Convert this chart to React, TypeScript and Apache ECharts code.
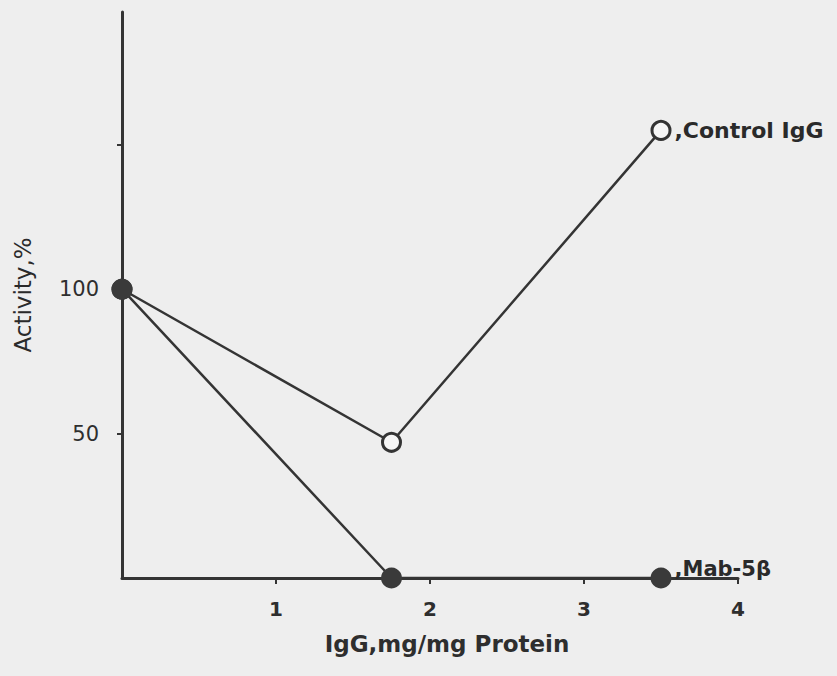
import React, { useEffect, useRef } from "react";
import * as echarts from "echarts";

const doses = [0, 1.75, 3.5];
const controlIgG = [100, 47, 155];
const mab5b = [100, 0, 0];
const xTickValues = [1, 2, 3, 4];
const yTickValues = [50, 100, 150];
const yLabelValues = [50, 100];
const controlLabel = ",Control IgG";
const mabLabel = ",Mab-5β";

const ink = "#343434";
const font = "DejaVu Sans";

export default function App() {
  const ref = useRef<HTMLDivElement>(null);
  useEffect(() => {
    if (!ref.current) return;
    const chart = echarts.init(ref.current, null, { renderer: "svg" });
    const controlData = doses.map((x, i) => {
      const item: any = { value: [x, controlIgG[i]] };
      if (i === doses.length - 1) {
        item.label = {
          show: true,
          position: "right",
          distance: 3,
          formatter: controlLabel,
          color: "#2a2a2a",
          fontFamily: font,
          fontWeight: "bold",
          fontSize: 22,
        };
      }
      return item;
    });
    const mabData = doses.map((x, i) => {
      const item: any = { value: [x, mab5b[i]] };
      if (i === doses.length - 1) {
        item.label = {
          show: true,
          position: "right",
          distance: 3,
          offset: [0, -9],
          formatter: mabLabel,
          color: "#2a2a2a",
          fontFamily: font,
          fontWeight: "bold",
          fontSize: 21,
        };
      }
      return item;
    });
    chart.setOption({
      animation: false,
      backgroundColor: "#eeeeee",
      grid: { left: 122, right: 99, top: 12, bottom: 98 },
      xAxis: {
        type: "value",
        min: 0,
        max: 4,
        interval: 1,
        name: "IgG,mg/mg Protein",
        nameLocation: "middle",
        nameGap: 54,
        nameTextStyle: {
          fontFamily: font,
          fontWeight: "bold",
          fontSize: 23,
          color: "#2e2e2e",
          padding: [0, 0, 0, 34],
        },
        axisLine: { show: true, lineStyle: { color: ink, width: 3 } },
        axisTick: {
          show: true,
          inside: false,
          length: 6,
          customValues: xTickValues,
          lineStyle: { color: ink, width: 2 },
        },
        axisLabel: {
          customValues: xTickValues,
          margin: 21,
          fontFamily: font,
          fontWeight: "bold",
          fontSize: 20,
          color: "#2e2e2e",
        },
        splitLine: { show: false },
      },
      yAxis: {
        type: "value",
        min: 0,
        max: 196,
        interval: 50,
        name: "Activity,%",
        nameLocation: "middle",
        nameGap: 88,
        nameTextStyle: {
          fontFamily: font,
          fontSize: 23,
          color: "#2a2a2a",
        },
        axisLine: { show: true, lineStyle: { color: ink, width: 3 } },
        axisTick: {
          show: true,
          inside: false,
          length: 5,
          customValues: yTickValues,
          lineStyle: { color: ink, width: 2 },
        },
        axisLabel: {
          customValues: yLabelValues,
          margin: 23,
          fontFamily: font,
          fontSize: 21,
          color: "#2e2e2e",
        },
        splitLine: { show: false },
      },
      series: [
        {
          name: "Control IgG",
          type: "line",
          data: controlData,
          clip: false,
          symbol: "circle",
          symbolSize: 18,
          showAllSymbol: true,
          lineStyle: { color: ink, width: 2.5 },
          itemStyle: { color: "#f6f6f6", borderColor: ink, borderWidth: 3 },
          z: 2,
        },
        {
          name: "Mab-5β",
          type: "line",
          data: mabData,
          clip: false,
          symbol: "circle",
          symbolSize: 21,
          showAllSymbol: true,
          lineStyle: { color: ink, width: 2.5 },
          itemStyle: { color: "#3a3a3a", borderColor: "#3a3a3a", borderWidth: 0 },
          z: 3,
        },
      ],
    });
    return () => chart.dispose();
  }, []);
  return (
    <div
      ref={ref}
      style={{ position: "absolute", left: 0, top: 0, width: 837, height: 676 }}
    />
  );
}
